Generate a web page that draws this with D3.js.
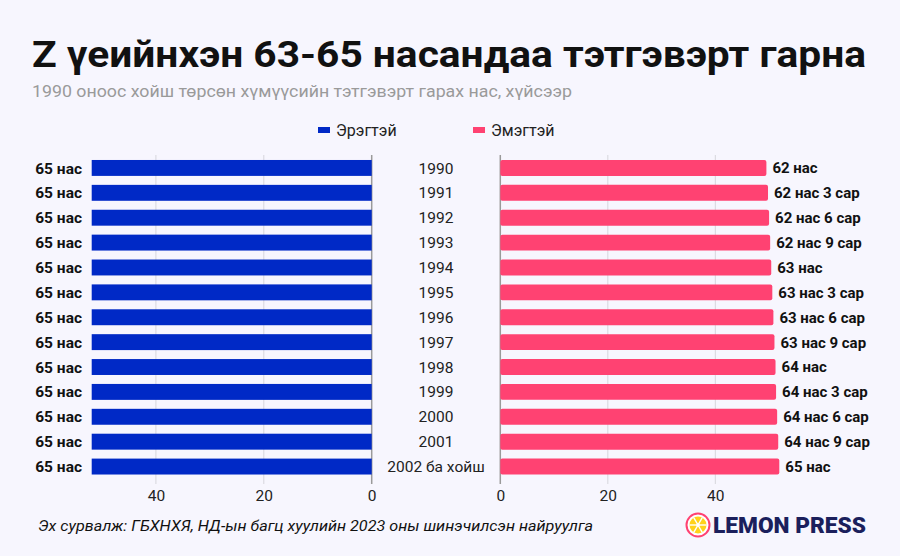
<html>
<head>
<meta charset="utf-8">
<script src="https://d3js.org/d3.v7.min.js"></script>
<style>
  body { margin: 0; background: #f7f6fe; }
  svg text { font-family: Roboto, 'Noto Sans', sans-serif; }
</style>
</head>
<body>
<svg id="chart" width="900" height="556"></svg>
<script>
// data
const years = ['1990','1991','1992','1993','1994','1995','1996','1997','1998','1999','2000','2001','2002 ба хойш'];
const maleValues = [51.9,51.9,51.9,51.9,51.9,51.9,51.9,51.9,51.9,51.9,51.9,51.9,51.9];
const maleLabels = ['65 нас','65 нас','65 нас','65 нас','65 нас','65 нас','65 нас','65 нас','65 нас','65 нас','65 нас','65 нас','65 нас'];
const femaleValues = [49.5,49.8,50.0,50.2,50.4,50.6,50.8,51.0,51.2,51.3,51.5,51.7,51.9];
const femaleLabels = ['62 нас','62 нас 3 сар','62 нас 6 сар','62 нас 9 сар','63 нас','63 нас 3 сар','63 нас 6 сар','63 нас 9 сар','64 нас','64 нас 3 сар','64 нас 6 сар','64 нас 9 сар','65 нас'];
const tickValues = [0, 20, 40];
const series = ['Эрэгтэй', 'Эмэгтэй'];

const blue = '#0029c6', pink = '#ff4272';

var svg = d3.select('#chart');

svg.append('rect').attr('width', 900).attr('height', 556).attr('fill', '#f7f6fe');

// title
svg.append('text')
  .attr('x', 32).attr('y', 67)
  .attr('font-size', 36).attr('font-weight', 700)
  .attr('fill', '#111')
  .attr('textLength', 834).attr('lengthAdjust', 'spacingAndGlyphs')
  .text('Z үеийнхэн 63-65 насандаа тэтгэвэрт гарна');

svg.append('text')
  .attr('x', 32).attr('y', 97)
  .attr('font-size', 17).attr('fill', '#9a9a9a')
  .attr('textLength', 540).attr('lengthAdjust', 'spacingAndGlyphs')
  .text('1990 оноос хойш төрсөн хүмүүсийн тэтгэвэрт гарах нас, хүйсээр');

// legend
var legendX = [318, 473];
series.forEach(function(s, i) {
  svg.append('rect')
    .attr('x', legendX[i]).attr('y', 127)
    .attr('width', 12).attr('height', 6)
    .attr('fill', i == 0 ? blue : pink);
  svg.append('text')
    .attr('x', legendX[i] + 18).attr('y', 136)
    .attr('font-size', 16).attr('fill', '#222')
    .text(s);
});

var y = d3.scaleBand()
  .domain(years)
  .range([155.5, 479])
  .paddingInner(0.36)
  .paddingOuter(0.18);

var xL = d3.scaleLinear().domain([0, 51.9]).range([371.7, 91.7]);
var xR = d3.scaleLinear().domain([0, 51.9]).range([500.3, 779.3]);

var gridTop = 155, gridBottom = 484;

// gridlines
function grid(scale) {
  svg.append('g').selectAll('line')
    .data(tickValues)
    .enter().append('line')
    .attr('x1', d => scale(d)).attr('x2', d => scale(d))
    .attr('y1', gridTop).attr('y2', gridBottom)
    .attr('stroke', d => d == 0 ? '#9a9a9a' : '#d6d6dc')
    .attr('stroke-width', d => d == 0 ? 1.5 : 1);
}
grid(xL);
grid(xR);

// male bars
svg.append('g').selectAll('rect')
  .data(maleValues)
  .enter().append('rect')
  .attr('x', d => xL(d))
  .attr('y', (d, i) => y(years[i]))
  .attr('width', d => xL(0) - xL(d))
  .attr('height', y.bandwidth())
  .attr('fill', blue);

// female bars
svg.append('g').selectAll('rect')
  .data(femaleValues)
  .enter().append('rect')
  .attr('x', xR(0))
  .attr('y', (d, i) => y(years[i]))
  .attr('width', d => xR(d) - xR(0))
  .attr('height', y.bandwidth())
  .attr('rx', 2)
  .attr('fill', pink);

// male labels
svg.append('g').selectAll('text')
  .data(maleLabels)
  .enter().append('text')
  .attr('x', 82)
  .attr('y', (d, i) => y(years[i]) + y.bandwidth() / 2)
  .attr('dy', '0.36em')
  .attr('text-anchor', 'end')
  .attr('font-size', 15.5).attr('font-weight', 700).attr('fill', '#111')
  .text(d => d);

// years
svg.append('g').selectAll('text')
  .data(years)
  .enter().append('text')
  .attr('x', 436)
  .attr('y', d => y(d) + y.bandwidth() / 2)
  .attr('dy', '0.36em')
  .attr('text-anchor', 'middle')
  .attr('font-size', 15.5).attr('fill', '#222')
  .text(d => d);

// female labels
svg.append('g').selectAll('text')
  .data(femaleValues)
  .enter().append('text')
  .attr('x', d => xR(d) + 6)
  .attr('y', (d, i) => y(years[i]) + y.bandwidth() / 2)
  .attr('dy', '0.36em')
  .attr('font-size', 15).attr('font-weight', 700).attr('fill', '#111')
  .text((d, i) => femaleLabels[i]);

// axes
function axis(scale) {
  var g = svg.append('g')
    .attr('transform', 'translate(0,' + (gridBottom - 4) + ')')
    .call(d3.axisBottom(scale).tickValues(tickValues).tickSize(0).tickPadding(10));
  g.select('.domain').remove();
  g.selectAll('text').attr('font-size', 15.5).attr('fill', '#222')
    .attr('font-family', 'Roboto, sans-serif');
}
axis(xL);
axis(xR);

// source
svg.append('text')
  .attr('x', 38).attr('y', 531)
  .attr('font-size', 14.5).attr('font-style', 'italic').attr('fill', '#111')
  .attr('textLength', 555).attr('lengthAdjust', 'spacingAndGlyphs')
  .text('Эх сурвалж: ГБХНХЯ, НД-ын багц хуулийн 2023 оны шинэчилсэн найруулга');

// logo
var logo = svg.append('g').attr('transform', 'translate(698,525)');
logo.append('circle').attr('r', 11.5).attr('fill', '#fff').attr('stroke', '#ff4272').attr('stroke-width', 2);
logo.append('circle').attr('r', 8.5).attr('fill', '#ffd21a');
d3.range(6).forEach(function(i) {
  var a = i * Math.PI / 3;
  logo.append('line')
    .attr('x1', 0).attr('y1', 0)
    .attr('x2', 8.5 * Math.cos(a)).attr('y2', 8.5 * Math.sin(a))
    .attr('stroke', '#fff').attr('stroke-width', 1.4);
});
logo.append('circle').attr('r', 1.8).attr('fill', '#fff');
svg.append('text')
  .attr('x', 713).attr('y', 533)
  .attr('font-size', 22).attr('font-weight', 900).attr('fill', '#1b1f5c')
  .attr('textLength', 153).attr('lengthAdjust', 'spacingAndGlyphs')
  .text('LEMON PRESS');
</script>
</body>
</html>
